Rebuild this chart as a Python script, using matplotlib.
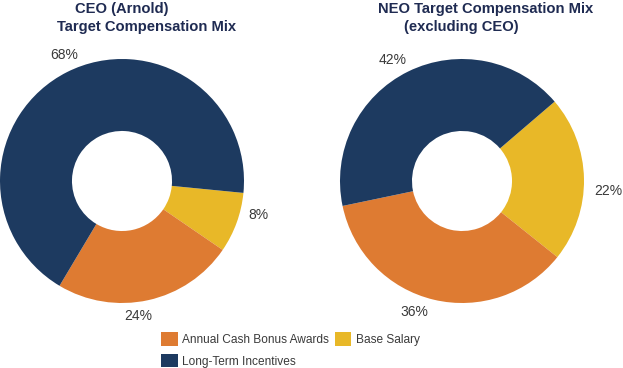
import matplotlib.pyplot as plt
from matplotlib.patches import Patch

plt.rcParams['font.family'] = ['Liberation Sans', 'DejaVu Sans']

# data
categories = ['Base Salary', 'Annual Cash Bonus Awards', 'Long-Term Incentives']
ceo_mix = [8, 24, 68]
neo_mix = [22, 36, 42]
colors = ['#E8B828', '#DE7B32', '#1D3A60']
title_color = '#1F2B52'
label_color = '#3A3A3A'

W, H = 623, 368
fig = plt.figure(figsize=(W / 100, H / 100), dpi=100)


def donut(left_px, values, start, label_pos):
    ax = fig.add_axes([left_px / W, 65 / H, 244 / W, 244 / H])
    ax.pie(values, colors=colors, startangle=start, counterclock=False,
           radius=1, wedgeprops=dict(width=0.59, linewidth=0))
    ax.set_xlim(-1, 1)
    ax.set_ylim(-1, 1)
    ax.set_aspect('equal')
    ax.axis('off')
    for v, (x, y) in zip(values, label_pos):
        ax.text(x, y, f'{v}%', ha='center', va='center', fontsize=10,
                color=label_color, clip_on=False)
    return ax


donut(0, ceo_mix, -5.6, [(1.12, -0.28), (0.13, -1.11), (-0.47, 1.03)])
donut(340, neo_mix, 40.6, [(1.20, -0.08), (-0.39, -1.07), (-0.57, 0.99)])

tk = dict(ha='center', va='center', fontsize=10.6, fontweight='bold', color=title_color)
fig.text(122 / W, 1 - 9 / H, 'CEO (Arnold)', **tk)
fig.text(147 / W, 1 - 27 / H, 'Target Compensation Mix', **tk)
fig.text(486 / W, 1 - 9 / H, 'NEO Target Compensation Mix', **tk)
fig.text(461 / W, 1 - 27 / H, '(excluding CEO)', **tk)

handles = [Patch(facecolor=colors[1], label=categories[1]),
           Patch(facecolor=colors[2], label=categories[2]),
           Patch(facecolor=colors[0], label=categories[0])]
fig.legend(handles=handles, ncol=2, loc='upper left',
           bbox_to_anchor=(161 / W, 1 - 332 / H), frameon=False,
           fontsize=8.6, handlelength=1.4, handleheight=1.4,
           handletextpad=0.4, columnspacing=0.45, labelspacing=0.65,
           borderpad=0, borderaxespad=0, labelcolor=label_color)

fig.savefig('out.png', dpi=100)
